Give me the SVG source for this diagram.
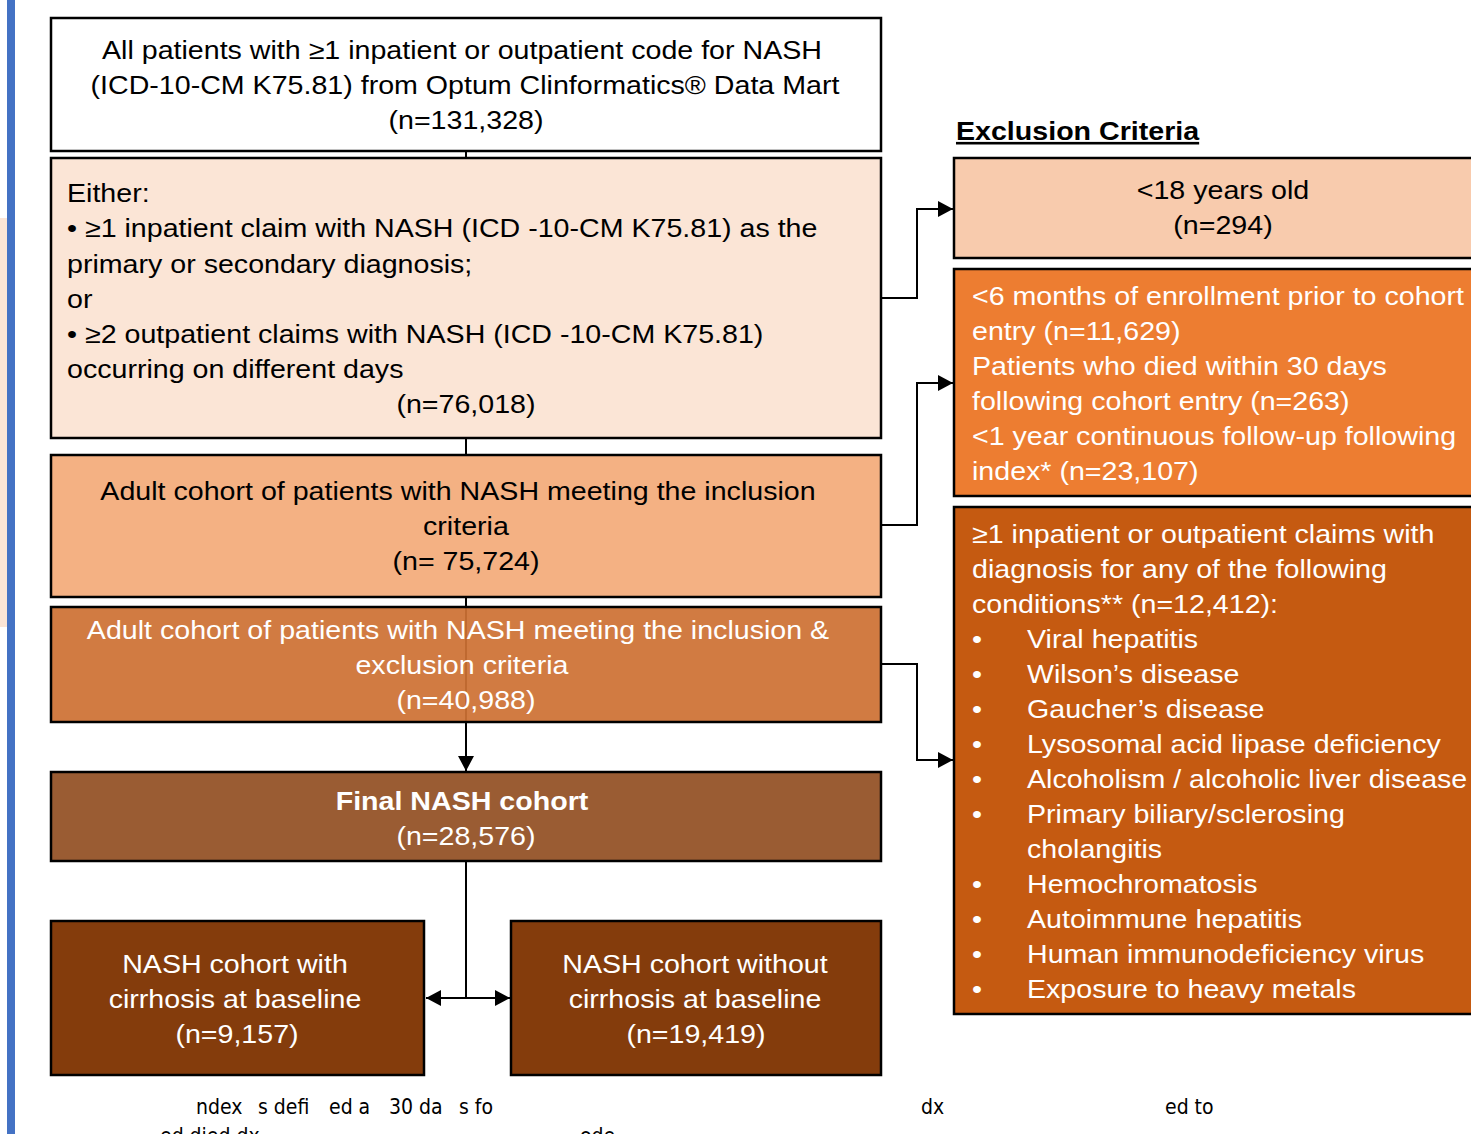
<svg xmlns="http://www.w3.org/2000/svg" width="1471" height="1134" viewBox="0 0 1471 1134">
<defs>
<marker id="ah" markerUnits="userSpaceOnUse" markerWidth="16" markerHeight="16" refX="15" refY="8" orient="auto">
<path d="M0,0 L15,8 L0,16 Z" fill="#000"/>
</marker>
</defs>
<style>
.box{stroke:#000;stroke-width:2.5}
.t{font-family:"Liberation Sans",Arial,sans-serif;font-size:26px;fill:#000;transform-box:fill-box;transform-origin:left center;transform:scaleX(1.1)}
.w{fill:#fff}
.c{text-anchor:middle;transform-origin:center center}
.con{fill:none;stroke:#000;stroke-width:2}
.foot{font-family:"DejaVu Sans Condensed","DejaVu Sans",sans-serif;font-stretch:condensed;font-size:21px;fill:#000}
</style>
<rect width="1471" height="1134" fill="#fff"/>
<rect x="0" y="218" width="7" height="409" fill="#FBE5D6"/>
<rect x="7" y="0" width="8" height="1134" fill="#4472C4"/>

<g id="connectors">
<line class="con" x1="466" y1="151" x2="466" y2="771" marker-end="url(#ah)"/>
<polyline class="con" points="881,298 917,298 917,209 953,209" marker-end="url(#ah)"/>
<polyline class="con" points="881,525 917,525 917,383 953,383" marker-end="url(#ah)"/>
<polyline class="con" points="881,664 917,664 917,760 953,760" marker-end="url(#ah)"/>
<polyline class="con" points="466,861 466,998 426,998" marker-end="url(#ah)"/>
<polyline class="con" points="466,998 510,998" marker-end="url(#ah)"/>
</g>

<g id="n1">
<rect class="box" x="51" y="18" width="830" height="133" fill="#fff"/>
<text class="t c" x="462" y="59">All patients with ≥1 inpatient or outpatient code for NASH</text>
<text class="t c" x="465" y="94">(ICD-10-CM K75.81) from Optum Clinformatics® Data Mart</text>
<text class="t c" x="466" y="129">(n=131,328)</text>
</g>

<g id="n2">
<rect class="box" x="51" y="158" width="830" height="280" fill="#FBE5D6"/>
<text class="t" x="67" y="202">Either:</text>
<text class="t" x="67" y="237">• ≥1 inpatient claim with NASH (ICD -10-CM K75.81) as the</text>
<text class="t" x="67" y="273">primary or secondary diagnosis;</text>
<text class="t" x="67" y="308">or</text>
<text class="t" x="67" y="343">• ≥2 outpatient claims with NASH (ICD -10-CM K75.81)</text>
<text class="t" x="67" y="378">occurring on different days</text>
<text class="t c" x="466" y="413">(n=76,018)</text>
</g>

<g id="n3">
<rect class="box" x="51" y="455" width="830" height="142" fill="#F4B183"/>
<text class="t c" x="458" y="500">Adult cohort of patients with NASH meeting the inclusion</text>
<text class="t c" x="466" y="535">criteria</text>
<text class="t c" x="466" y="570">(n= 75,724)</text>
</g>

<g id="n4">
<rect class="box" x="51" y="607" width="830" height="115" fill="#CD7134" fill-opacity="0.93"/>
<text class="t w c" x="458" y="639">Adult cohort of patients with NASH meeting the inclusion &amp;</text>
<text class="t w c" x="462" y="674">exclusion criteria</text>
<text class="t w c" x="466" y="709">(n=40,988)</text>
</g>

<g id="n5">
<rect class="box" x="51" y="772" width="830" height="89" fill="#9A5C33"/>
<text class="t w c" x="462" y="810" font-weight="bold">Final NASH cohort</text>
<text class="t w c" x="466" y="845">(n=28,576)</text>
</g>

<g id="n6">
<rect class="box" x="51" y="921" width="373" height="154" fill="#843C0C"/>
<text class="t w c" x="235" y="973">NASH cohort with</text>
<text class="t w c" x="235" y="1008">cirrhosis at baseline</text>
<text class="t w c" x="237" y="1043">(n=9,157)</text>
</g>

<g id="n7">
<rect class="box" x="511" y="921" width="370" height="154" fill="#843C0C"/>
<text class="t w c" x="695" y="973">NASH cohort without</text>
<text class="t w c" x="695" y="1008">cirrhosis at baseline</text>
<text class="t w c" x="696" y="1043">(n=19,419)</text>
</g>

<g id="exclusion-title">
<text class="t" x="956" y="140" font-weight="bold" text-decoration="underline">Exclusion Criteria</text>
</g>

<g id="e1">
<rect class="box" x="954" y="158" width="530" height="100" fill="#F8CBAD"/>
<text class="t c" x="1223" y="199">&lt;18 years old</text>
<text class="t c" x="1223" y="234">(n=294)</text>
</g>

<g id="e2">
<rect class="box" x="954" y="269" width="530" height="227" fill="#ED7D31"/>
<text class="t w" x="972" y="305">&lt;6 months of enrollment prior to cohort</text>
<text class="t w" x="972" y="340">entry (n=11,629)</text>
<text class="t w" x="972" y="375">Patients who died within 30 days</text>
<text class="t w" x="972" y="410">following cohort entry (n=263)</text>
<text class="t w" x="972" y="445">&lt;1 year continuous follow-up following</text>
<text class="t w" x="972" y="480">index* (n=23,107)</text>
</g>

<g id="e3">
<rect class="box" x="954" y="507" width="530" height="507" fill="#C55A11"/>
<text class="t w" x="972" y="543">≥1 inpatient or outpatient claims with</text>
<text class="t w" x="972" y="578">diagnosis for any of the following</text>
<text class="t w" x="972" y="613">conditions** (n=12,412):</text>
<text class="t w" x="972" y="648">•</text><text class="t w" x="1027" y="648">Viral hepatitis</text>
<text class="t w" x="972" y="683">•</text><text class="t w" x="1027" y="683">Wilson’s disease</text>
<text class="t w" x="972" y="718">•</text><text class="t w" x="1027" y="718">Gaucher’s disease</text>
<text class="t w" x="972" y="753">•</text><text class="t w" x="1027" y="753">Lysosomal acid lipase deficiency</text>
<text class="t w" x="972" y="788">•</text><text class="t w" x="1027" y="788">Alcoholism / alcoholic liver disease</text>
<text class="t w" x="972" y="823">•</text><text class="t w" x="1027" y="823">Primary biliary/sclerosing</text>
<text class="t w" x="1027" y="858">cholangitis</text>
<text class="t w" x="972" y="893">•</text><text class="t w" x="1027" y="893">Hemochromatosis</text>
<text class="t w" x="972" y="928">•</text><text class="t w" x="1027" y="928">Autoimmune hepatitis</text>
<text class="t w" x="972" y="963">•</text><text class="t w" x="1027" y="963">Human immunodeficiency virus</text>
<text class="t w" x="972" y="998">•</text><text class="t w" x="1027" y="998">Exposure to heavy metals</text>
</g>

<g id="footnote">
<text class="foot" x="196" y="1114">ndex</text>
<text class="foot" x="258" y="1114">s defi</text>
<text class="foot" x="329" y="1114">ed a</text>
<text class="foot" x="389" y="1114">30 da</text>
<text class="foot" x="459" y="1114">s fo</text>
<text class="foot" x="921" y="1114">dx</text>
<text class="foot" x="1165" y="1114">ed to</text>
<text class="foot" x="160" y="1143">ed died dx</text>
<text class="foot" x="580" y="1143">ode</text>
</g>
</svg>
